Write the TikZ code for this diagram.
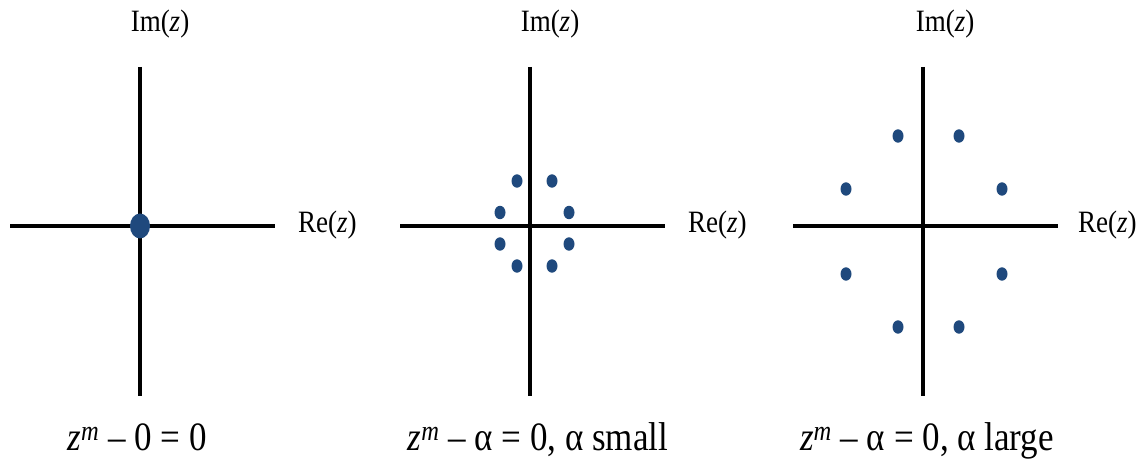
\documentclass[tikz,border=0pt]{standalone}
\usepackage{fontspec}
\setmainfont{Liberation Serif}
\usepackage{tikz}
\usepackage{xcolor}

\definecolor{rootblue}{RGB}{31,73,125}

\begin{document}
\begin{tikzpicture}[x=1pt,y=1pt,
    axis/.style={line width=4.8pt},
    root/.style={fill=rootblue},
    axlbl/.style={inner sep=0pt,transform shape,yscale=1.15,font=\fontsize{27}{32}\selectfont},
    eqlbl/.style={inner sep=0pt,anchor=base,transform shape,yscale=1.15,font=\fontsize{35}{42}\selectfont}]
  \useasboundingbox (0,0) rectangle (1141,465);
  % plane 1: single root at the origin
  \coordinate (w1) at (10,239);
  \coordinate (e1) at (275,239);
  \coordinate (n1) at (140,398);
  \coordinate (s1) at (140,69);
  \draw[axis] (w1) -- (e1);
  \draw[axis] (n1) -- (s1);
  \fill[root] (140,239) ellipse (10 and 12.5);
  \node[axlbl,anchor=base] (im1) at (160,433) {Im(\textit{z})};
  \node[axlbl,anchor=base west] (re1) at (298,232) {Re(\textit{z})};
  \node[eqlbl] (eq1) at (137,14) {\textit{z}\textsuperscript{\textit{m}} – 0 = 0};
  % plane 2: roots close to the origin
  \coordinate (w2) at (400,239);
  \coordinate (e2) at (665,239);
  \coordinate (n2) at (530,398);
  \coordinate (s2) at (530,69);
  \draw[axis] (w2) -- (e2);
  \draw[axis] (n2) -- (s2);
  \foreach \p in {(517,284),(552,284),(500,252.5),(569,252.5),
                  (500,221),(569,221),(517,199),(552,199)}
    \fill[root] \p ellipse (5.5 and 6.7);
  \node[axlbl,anchor=base] (im2) at (550,433) {Im(\textit{z})};
  \node[axlbl,anchor=base west] (re2) at (688,232) {Re(\textit{z})};
  \node[eqlbl] (eq2) at (538,14) {\textit{z}\textsuperscript{\textit{m}} – α = 0, α small};
  % plane 3: roots far from the origin
  \coordinate (w3) at (793,239);
  \coordinate (e3) at (1058,239);
  \coordinate (n3) at (923,398);
  \coordinate (s3) at (923,69);
  \draw[axis] (w3) -- (e3);
  \draw[axis] (n3) -- (s3);
  \foreach \p in {(898,329),(959,329),(846,276),(1002,276),
                  (846,191),(1002,191),(898,138),(959,138)}
    \fill[root] \p ellipse (5.5 and 6.7);
  \node[axlbl,anchor=base] (im3) at (945,433) {Im(\textit{z})};
  \node[axlbl,anchor=base west] (re3) at (1078,232) {Re(\textit{z})};
  \node[eqlbl] (eq3) at (927,14) {\textit{z}\textsuperscript{\textit{m}} – α = 0, α large};
\end{tikzpicture}
\end{document}
